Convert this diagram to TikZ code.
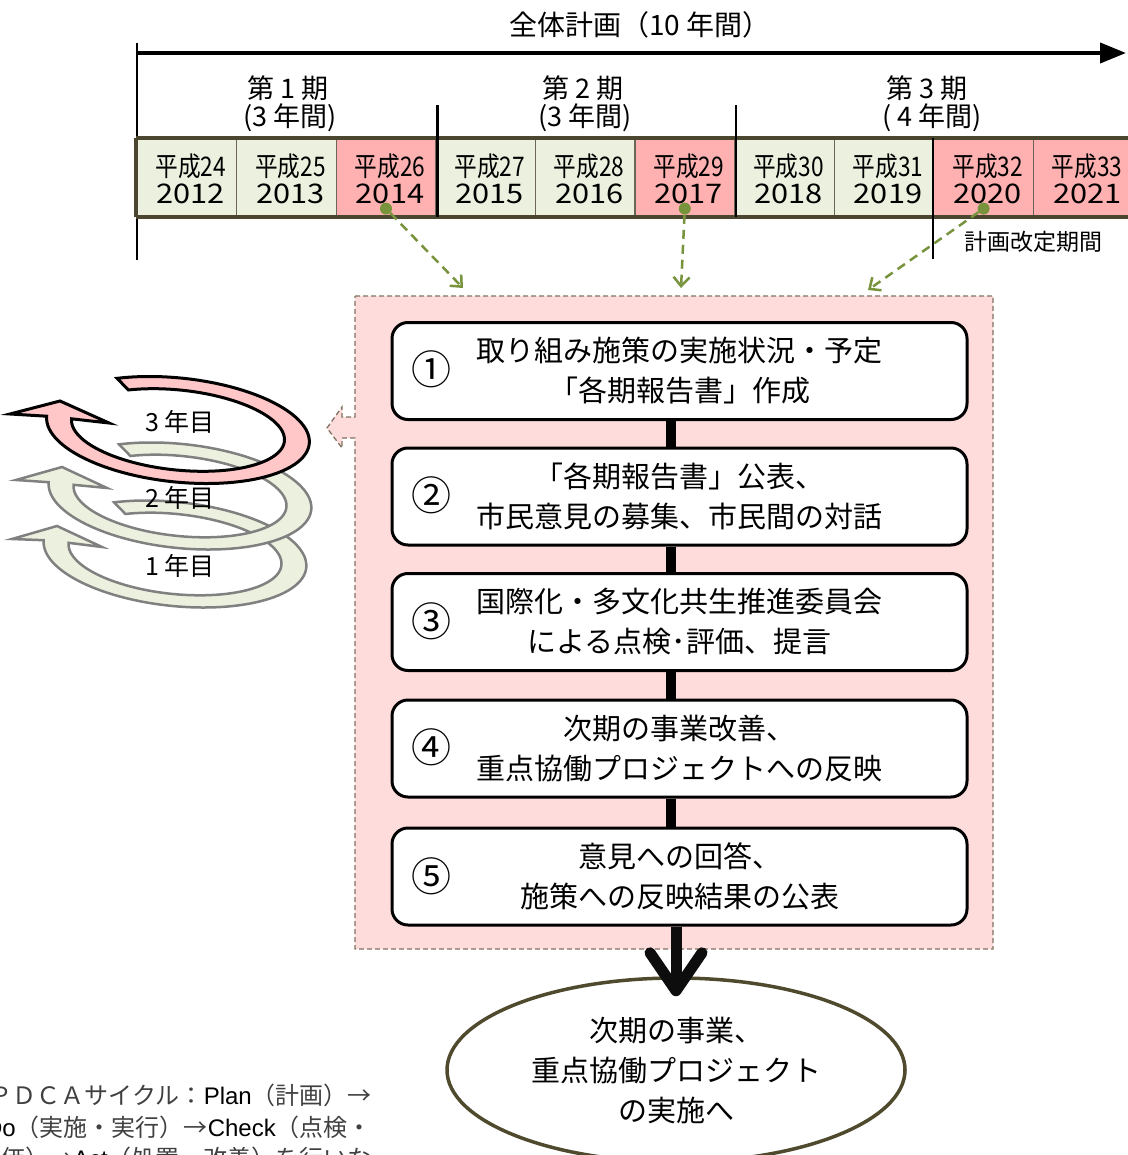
\documentclass[tikz,border=0pt]{standalone}
\usepackage{graphicx}
\usepackage{fontspec}
\setmainfont{Noto Sans CJK JP}
\newfontfamily\latf{Liberation Sans}
\usetikzlibrary{arrows.meta,shapes.geometric,calc}
\definecolor{cellgc}{HTML}{EBF1DE}
\definecolor{cellpc}{HTML}{FFB1B1}
\definecolor{rowb}{HTML}{4B4630}
\definecolor{sepc}{HTML}{6B6658}
\definecolor{panelc}{HTML}{FFDCDC}
\definecolor{panelb}{HTML}{7F7260}
\definecolor{dotg}{HTML}{77933C}
\definecolor{loopp}{HTML}{FFC7C7}
\definecolor{loopg}{HTML}{EBF1DE}
\definecolor{loopgb}{HTML}{808080}
\definecolor{ellb}{HTML}{4F4A2D}
\definecolor{graytext}{HTML}{404040}
\newcommand\fs[1]{\fontsize{#1}{#1}\selectfont}
\newcommand\yrtxt[2]{\scalebox{0.84}[1]{平成#1}\\\scalebox{1.14}[1]{#2}}
\newcommand\spiralband[6]{%
  \draw[#1] plot[domain=240:540,samples=90]
    ({#2+132*cos(\x)*0.9945-52*sin(\x)*0.1045},{#3+132*cos(\x)*0.1045+52*sin(\x)*0.9945})
    -- #4 -- #5 -- #6 --
    plot[domain=540:240,samples=90]
    ({#2+107*cos(\x)*0.9945-40*sin(\x)*0.1045},{#3+107*cos(\x)*0.1045+40*sin(\x)*0.9945})
    -- cycle;}
\begin{document}
\begin{tikzpicture}[x=1pt,y=-1pt,
  cellbase/.style={draw=sepc, line width=1.2pt, minimum width=99.6pt, minimum height=77pt,
    inner sep=0pt},
  greencell/.style={cellbase, fill=cellgc},
  pinkcell/.style={cellbase, fill=cellpc},
  yrtext/.style={align=center, font=\fs{27}, inner sep=0pt},
  rowline/.style={draw=rowb, line width=4pt},
  periodtxt/.style={font=\fs{27}, inner sep=0pt},
  dotst/.style={circle, fill=dotg, minimum size=12pt, inner sep=0pt},
  dashg/.style={draw=dotg, line width=2.5pt, dash pattern=on 9pt off 6pt,
    -{Straight Barb[length=9pt,width=16pt,line width=2.5pt]}},
  panelst/.style={fill=panelc, draw=panelb, line width=1.3pt, dash pattern=on 5pt off 3pt},
  stepbox/.style={draw=black, line width=3pt, fill=white, rounded corners=16pt,
    minimum width=575pt, minimum height=97pt, align=center, inner sep=0pt,
    font=\fontsize{29}{40}\selectfont},
  numst/.style={font=\fs{40}, inner sep=0pt},
  conn/.style={draw=black, line width=10pt},
  bigarrow/.style={draw=black!95, line width=11pt, shorten >=-20pt,
    -{Straight Barb[length=38pt,width=52pt,line width=11pt,round]}},
  endell/.style={ellipse, draw=ellb, line width=3.5pt, fill=white, minimum width=458pt,
    minimum height=184pt, inner sep=0pt, align=center, font=\fontsize{29}{40}\selectfont},
  ploop/.style={fill=loopp, draw=black, line width=3pt},
  gloop/.style={fill=loopg, draw=loopgb, line width=2.5pt},
  looptxt/.style={font=\fs{25}, inner sep=0pt},
  notetxt/.style={font=\fs{24}, inner sep=0pt, text=graytext}
]
\useasboundingbox (0,0) rectangle (1127,1155);

% ---------- timeline ----------
\node[font=\fs{28}, inner sep=0pt] (title) at (640,25) {全体計画（10 年間）};
\coordinate (ta) at (137,53);
\coordinate (tb) at (1126,53);
\draw[line width=4pt, -{Triangle[length=26pt,width=20pt]}] (ta) -- (tb);
\draw[line width=2pt] (137,43) -- (137,260);

\node[periodtxt] (p1a) at (288,88) {第 1 期};
\node[periodtxt] (p1b) at (290,118) {(3 年間)};
\node[periodtxt] (p2a) at (583,88) {第 2 期};
\node[periodtxt] (p2b) at (585,118) {(3 年間)};
\node[periodtxt] (p3a) at (927,88) {第 3 期};
\node[periodtxt] (p3b) at (932,118) {( 4 年間)};

\foreach \i/\cx/\st/\h/\y in {1/186.8/greencell/24/2012, 2/286.4/greencell/25/2013,
  3/386/pinkcell/26/2014, 4/485.6/greencell/27/2015, 5/585.2/greencell/28/2016,
  6/684.8/pinkcell/29/2017, 7/784.4/greencell/30/2018, 8/884/greencell/31/2019,
  9/983.6/pinkcell/32/2020, 10/1083.2/pinkcell/33/2021}{
  \node[\st] (c\i) at (\cx,177.5) {};
  \node[yrtext] (y\i) at ([xshift=4pt,yshift=-1pt]c\i.center) {\yrtxt{\h}{\y}};
}

\draw[rowline] (c1.north west) -- (c10.north east);
\draw[rowline] (c1.south west) -- (c10.south east);
\draw[rowline] (c1.north west) -- (c1.south west);
\draw[line width=2.5pt] ([xshift=1pt]c3.south east) -- ++(0,-112);
\draw[line width=2.5pt] ([xshift=1pt]c6.south east) -- ++(0,-112);
\draw[line width=2pt] (c9.north west) -- ++(0,121);
\node[font=\fs{23}, inner sep=0pt] (rev) at (1033,242) {計画改定期間};

% ---------- pink panel ----------
\path[panelst] (355,296) -- (993,296) -- (993,949) -- (355,949) -- (355,438) -- (342,438)
  -- (342,448) -- (327,428) -- (342,407) -- (342,417) -- (355,417) -- cycle;

% dots and dashed arrows
\node[dotst] (d1) at ([yshift=8pt]c3.south) {};
\node[dotst] (d2) at ([yshift=8pt]c6.south) {};
\node[dotst] (d3) at ([yshift=8pt]c9.south) {};
\coordinate (t1) at (463,288);
\coordinate (t2) at (681,288);
\coordinate (t3) at (868,290);
\draw[dashg] (d1) -- (t1);
\draw[dashg] (d2) -- (t2);
\draw[dashg] (d3) -- (t3);

% ---------- steps ----------
\node[stepbox] (b1) at (679.5,371) {取り組み施策の実施状況・予定\\「各期報告書」作成};
\node[stepbox] (b2) at (679.5,496.5) {「各期報告書」公表、\\市民意見の募集、市民間の対話};
\node[stepbox] (b3) at (679.5,622) {国際化・多文化共生推進委員会\\による点検･評価、提言};
\node[stepbox] (b4) at (679.5,748.5) {次期の事業改善、\\重点協働プロジェクトへの反映};
\node[stepbox] (b5) at (679.5,876.5) {意見への回答、\\施策への反映結果の公表};
\node[numst] (n1) at (431,369) {①};
\node[numst] (n2) at (431,495) {②};
\node[numst] (n3) at (431,621) {③};
\node[numst] (n4) at (431,747) {④};
\node[numst] (n5) at (431,876) {⑤};

\coordinate (cx) at (671,0);
\draw[conn] (b1.south -| cx) -- (b2.north -| cx);
\draw[conn] (b2.south -| cx) -- (b3.north -| cx);
\draw[conn] (b3.south -| cx) -- (b4.north -| cx);
\draw[conn] (b4.south -| cx) -- (b5.north -| cx);

\node[endell] (e) at (676,1070) {次期の事業、\\重点協働プロジェクト\\の実施へ};
\draw[bigarrow] (b5.south -| e.north) -- (e.north);

% ---------- spirals ----------
\spiralband{gloop}{175}{554}{(12,539)}{(57,526)}{(102,547)}
\spiralband{gloop}{180}{496}{(16,480)}{(62,467)}{(107,488)}
\spiralband{ploop}{178}{430}{(10,414)}{(60,401)}{(109,423)}
\node[looptxt] (l3) at (180,422) {3 年目};
\node[looptxt] (l2) at (180,498) {2 年目};
\node[looptxt] (l1) at (180,566) {1 年目};

% ---------- note text (cut by the picture edge, as in the reference) ----------
\begin{scope}
\clip (0,0) rectangle (1127,1155);
\node[notetxt, anchor=east] (nt1) at (372,1095) {ＰＤＣＡサイクル：{\latf\color{black}Plan}（計画）→};
\node[notetxt, anchor=east] (nt2) at (372,1127) {{\latf\color{black}Do}（実施・実行）→{\latf\color{black}Check}（点検・};
\node[notetxt, anchor=east] (nt3) at (372,1158) {評価）→{\latf\color{black}Act}（処置・改善）を行いな};
\end{scope}
\end{tikzpicture}
\end{document}
